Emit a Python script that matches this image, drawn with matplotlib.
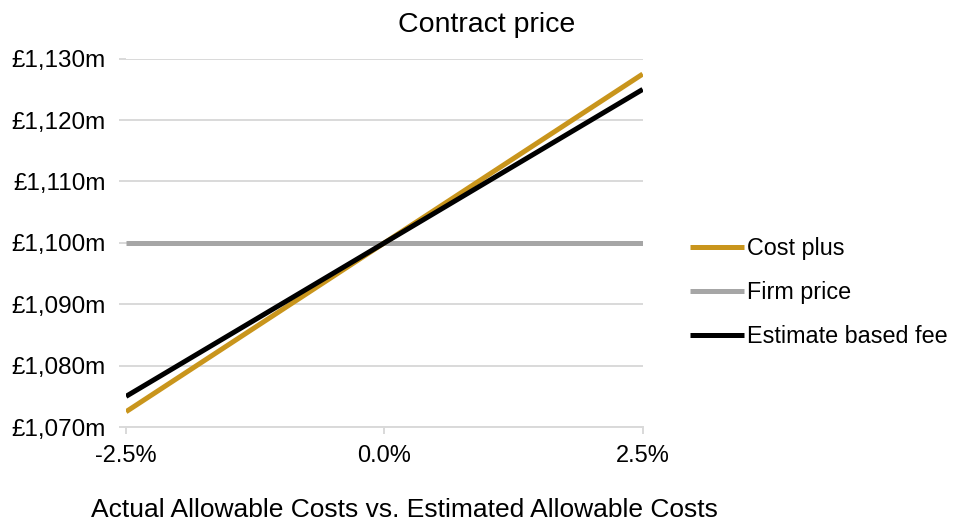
import matplotlib

matplotlib.use("Agg")

import matplotlib.pyplot as plt
from matplotlib.ticker import FuncFormatter

plt.rcParams["font.family"] = ["Liberation Sans", "DejaVu Sans"]

# cost variance (%) and resulting contract price (£m)
variance = [-2.5, 2.5]
cost_plus = [1072.5, 1127.5]
firm_price = [1100.0, 1100.0]
estimate_based_fee = [1075.0, 1125.0]

y_ticks = [1070, 1080, 1090, 1100, 1110, 1120, 1130]
x_ticks = [-2.5, 0.0, 2.5]

GRID = "#d9d9d9"

fig = plt.figure(figsize=(9.55, 5.24), dpi=100)
ax = fig.add_axes((0.132, 0.185, 0.541, 0.703))

ax.plot(variance, firm_price, color="#a6a6a6", linewidth=3.6,
        solid_capstyle="butt", label="Firm price", zorder=3)
ax.plot(variance, cost_plus, color="#c9951c", linewidth=3.6,
        solid_capstyle="butt", label="Cost plus", zorder=4)
ax.plot(variance, estimate_based_fee, color="#000000", linewidth=3.6,
        solid_capstyle="butt", label="Estimate based fee", zorder=5)

ax.set_xlim(-2.5, 2.5)
ax.set_ylim(1070, 1130)
ax.set_xticks(x_ticks)
ax.set_yticks(y_ticks)
ax.xaxis.set_major_formatter(FuncFormatter(lambda v, _: f"{v:.1f}%"))
ax.yaxis.set_major_formatter(FuncFormatter(lambda v, _: f"£{v:,.0f}m"))

ax.grid(axis="y", color=GRID, linewidth=1.4, zorder=0)
for side in ("top", "right", "left"):
    ax.spines[side].set_visible(False)
ax.spines["bottom"].set_color(GRID)
ax.spines["bottom"].set_linewidth(1.4)
ax.tick_params(axis="x", length=5, width=1.4, color=GRID, labelsize=17, pad=8)
ax.tick_params(axis="y", length=5, width=1.4, color=GRID, labelsize=17.5, pad=9.5)

fig.text(0.424, 0.027, "Actual Allowable Costs vs. Estimated Allowable Costs",
         ha="center", va="center", fontsize=19)
fig.text(0.51, 0.953, "Contract price", ha="center", va="center", fontsize=20.5)

handles, labels = ax.get_legend_handles_labels()
order = [labels.index(n) for n in ("Cost plus", "Firm price", "Estimate based fee")]
fig.legend(
    [handles[i] for i in order],
    [labels[i] for i in order],
    loc="center left",
    bbox_to_anchor=(0.722, 0.441),
    frameon=False,
    fontsize=16.8,
    handlelength=2.35,
    handletextpad=0.1,
    labelspacing=0.9,
    borderpad=0,
    borderaxespad=0,
)

fig.savefig("out.png", dpi=100)
plt.close(fig)
